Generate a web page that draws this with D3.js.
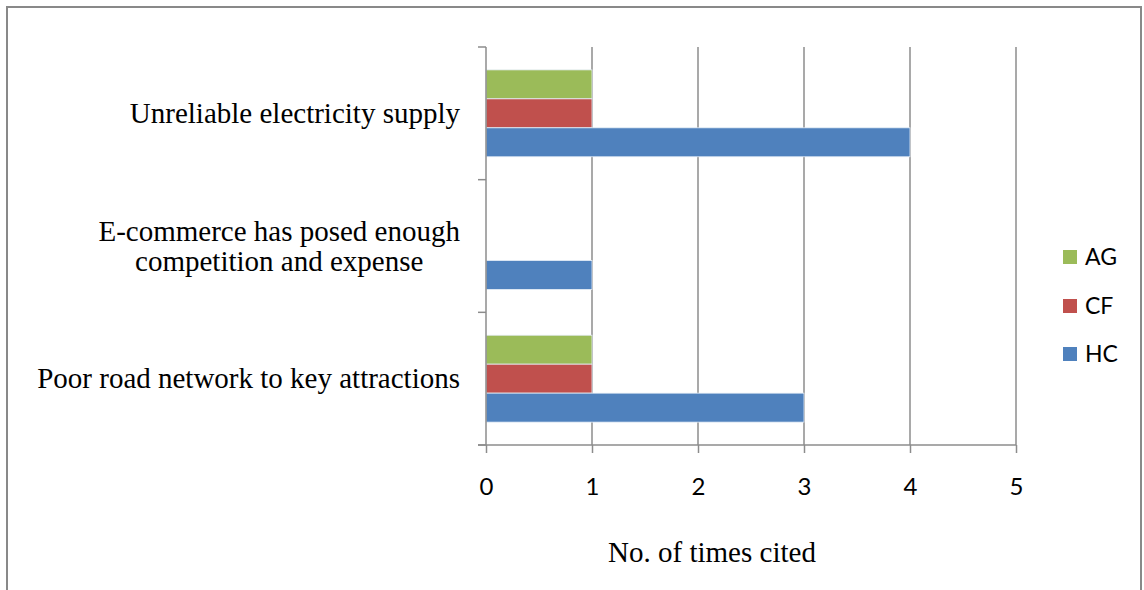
<!DOCTYPE html>
<html>
<head>
<meta charset="utf-8">
<script src="https://cdn.jsdelivr.net/npm/d3@7"></script>
<style>
  html, body { margin: 0; padding: 0; background: #fff; }
  svg { display: block; }
</style>
</head>
<body>
<svg id="chart" width="1144" height="590"></svg>
<script>
// Problem categories, top to bottom
const categories = [
  "Unreliable electricity supply",
  "E-commerce has posed enough competition and expense",
  "Poor road network to key attractions"
];
// Label lines for each category
const categoryLines = [
  ["Unreliable electricity supply"],
  ["E-commerce has posed enough", "competition and expense"],
  ["Poor road network to key attractions"]
];
// Series, drawn top to bottom inside each category
const seriesNames = ["AG", "CF", "HC"];
const seriesColors = ["#9BBB59", "#C0504D", "#4F81BD"];
const agValues = [1, 0, 1];
const cfValues = [1, 0, 1];
const hcValues = [4, 1, 3];
const seriesValues = [agValues, cfValues, hcValues];
const xTicks = [0, 1, 2, 3, 4, 5];
const xTitle = "No. of times cited";

const svg = d3.select("#chart");

// outer frame
svg.append("rect")
  .attr("x", 7).attr("y", 7)
  .attr("width", 1134).attr("height", 600)
  .attr("fill", "none")
  .attr("stroke", "#898989")
  .attr("stroke-width", 2);

const plot = { left: 486, right: 1016, top: 47, bottom: 445 };

const x = d3.scaleLinear().domain([0, 5]).range([plot.left, plot.right]);
const y = d3.scaleBand().domain(categories).range([plot.top, plot.bottom]).padding(0);
const ySeries = d3.scaleBand().domain(seriesNames)
  .range([0, y.bandwidth()]).paddingInner(0).paddingOuter(0.79);

const gridColor = "#8c8c8c";
const sansFont = "Lato, 'Open Sans', sans-serif";
const serifFont = "'Liberation Serif', 'Times New Roman', serif";

// vertical gridlines
svg.append("g").selectAll("line")
  .data(xTicks.filter(d => d > 0))
  .join("line")
  .attr("x1", d => x(d)).attr("x2", d => x(d))
  .attr("y1", plot.top).attr("y2", plot.bottom)
  .attr("stroke", gridColor).attr("stroke-width", 1.5);

// bars
const rows = [];
categories.forEach((c, i) => {
  seriesNames.forEach((s, j) => {
    rows.push({ cat: c, series: s, value: seriesValues[j][i], color: seriesColors[j] });
  });
});
svg.append("g").selectAll("rect")
  .data(rows.filter(d => d.value > 0))
  .join("rect")
  .attr("x", x(0))
  .attr("y", d => y(d.cat) + ySeries(d.series))
  .attr("width", d => x(d.value) - x(0))
  .attr("height", ySeries.bandwidth())
  .attr("fill", d => d.color)
  .attr("stroke", "#e6eef7")
  .attr("stroke-width", 0.8);

// x axis
const xAxis = d3.axisBottom(x).tickValues(xTicks).tickSize(8).tickPadding(25).tickFormat(d3.format("d"));
const gx = svg.append("g").attr("transform", `translate(0,${plot.bottom})`).call(xAxis);
gx.select(".domain").remove();
gx.selectAll(".tick line").attr("stroke", gridColor).attr("stroke-width", 1.5);
gx.selectAll(".tick text")
  .attr("fill", "#000")
  .style("font-family", sansFont)
  .style("font-size", "24px");
svg.append("line")
  .attr("x1", plot.left - 8).attr("x2", plot.right)
  .attr("y1", plot.bottom).attr("y2", plot.bottom)
  .attr("stroke", gridColor).attr("stroke-width", 1.5);

// y axis: ticks on category boundaries
const boundaries = categories.map(c => y(c)).concat([plot.bottom]);
svg.append("line")
  .attr("x1", plot.left).attr("x2", plot.left)
  .attr("y1", plot.top).attr("y2", plot.bottom)
  .attr("stroke", gridColor).attr("stroke-width", 1.5);
svg.append("g").selectAll("line")
  .data(boundaries)
  .join("line")
  .attr("x1", plot.left - 8).attr("x2", plot.left)
  .attr("y1", d => d).attr("y2", d => d)
  .attr("stroke", gridColor).attr("stroke-width", 1.5);

// category labels (lines centred on each other, block right aligned)
const labelRight = 460;
const lineGap = 30;
categories.forEach((c, i) => {
  const lines = categoryLines[i];
  const cy = y(c) + y.bandwidth() / 2;
  const g = svg.append("g");
  const texts = g.selectAll("text")
    .data(lines)
    .join("text")
    .attr("y", (d, k) => cy + (k - (lines.length - 1) / 2) * lineGap)
    .attr("dy", "0.33em")
    .attr("text-anchor", "middle")
    .attr("fill", "#000")
    .style("font-family", serifFont)
    .style("font-size", "29px")
    .text(d => d);
  let maxW = 0;
  texts.each(function () { maxW = Math.max(maxW, this.getComputedTextLength()); });
  texts.attr("x", labelRight - maxW / 2);
});

// axis title
svg.append("text")
  .attr("x", 712).attr("y", 562)
  .attr("text-anchor", "middle")
  .attr("fill", "#000")
  .style("font-family", serifFont)
  .style("font-size", "29px")
  .text(xTitle);

// legend
const legendY = [257, 306, 354];
const lg = svg.append("g").selectAll("g")
  .data(seriesNames)
  .join("g")
  .attr("transform", (d, i) => `translate(1063,${legendY[i]})`);
lg.append("rect")
  .attr("x", 0).attr("y", -7)
  .attr("width", 14).attr("height", 14)
  .attr("fill", (d, i) => seriesColors[i]);
lg.append("text")
  .attr("x", 22).attr("y", 0)
  .attr("dy", "0.36em")
  .attr("fill", "#000")
  .style("font-family", sansFont)
  .style("font-size", "23px")
  .text(d => d);
</script>
</body>
</html>
